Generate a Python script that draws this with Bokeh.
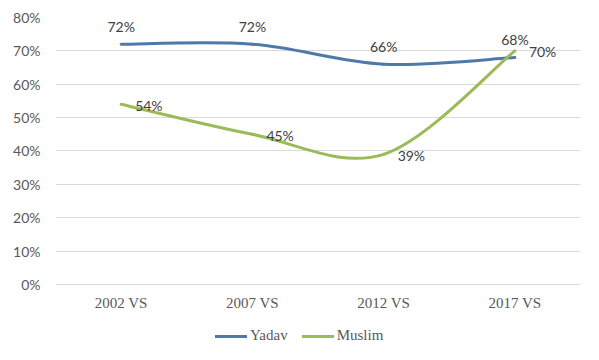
from bokeh.plotting import figure
from bokeh.models import (ColumnDataSource, Range1d, FixedTicker, PrintfTickFormatter,
                          Legend, LegendItem)
from bokeh.embed import file_html
from bokeh.resources import INLINE
from bokeh.core.properties import value

# ---- data ----
categories = ["2002 VS", "2007 VS", "2012 VS", "2017 VS"]
yadav = [72, 72, 66, 68]
muslim = [54, 45, 39, 70]
y_ticks = [0, 10, 20, 30, 40, 50, 60, 70, 80]

YADAV_COLOR = "#4E79A8"
MUSLIM_COLOR = "#9BBB59"


def smooth_source(vals):
    """Excel-style smoothed line: cubic Bezier segments (Catmull-Rom, tension 1/6)."""
    pts = [(float(i), float(v)) for i, v in enumerate(vals)]
    n = len(pts)
    d = dict(x0=[], y0=[], x1=[], y1=[], cx0=[], cy0=[], cx1=[], cy1=[])
    for i in range(n - 1):
        p0 = pts[i - 1] if i > 0 else pts[i]
        p1 = pts[i]
        p2 = pts[i + 1]
        p3 = pts[i + 2] if i + 2 < n else pts[i + 1]
        d["x0"].append(p1[0]); d["y0"].append(p1[1])
        d["x1"].append(p2[0]); d["y1"].append(p2[1])
        d["cx0"].append(p1[0] + (p2[0] - p0[0]) / 6.0)
        d["cy0"].append(p1[1] + (p2[1] - p0[1]) / 6.0)
        d["cx1"].append(p2[0] - (p3[0] - p1[0]) / 6.0)
        d["cy1"].append(p2[1] - (p3[1] - p1[1]) / 6.0)
    return ColumnDataSource(d)


# frame runs from the top (80%) down to the canvas bottom; the category axis is pinned at 0
p = figure(width=583, height=344, output_backend="svg", toolbar_location=None,
           x_range=Range1d(-0.5, len(categories) - 0.5), y_range=Range1d(-17.98, 80),
           min_border_left=55, min_border_right=3, min_border_top=17, min_border_bottom=0)
p.outline_line_color = None
p.background_fill_color = "white"
p.border_fill_color = "white"

# axes
p.xaxis.fixed_location = 0
p.xaxis.ticker = FixedTicker(ticks=list(range(len(categories))))
p.xaxis.major_label_overrides = {i: c for i, c in enumerate(categories)}
p.xaxis.axis_line_color = "#D9D9D9"
p.xaxis.major_tick_line_color = None
p.xaxis.minor_tick_line_color = None
p.xaxis.major_tick_out = 0
p.xaxis.major_label_standoff = 11
p.xaxis.major_label_text_font = "Liberation Serif"
p.xaxis.major_label_text_font_size = "15px"
p.xaxis.major_label_text_color = "#595959"

p.yaxis.ticker = FixedTicker(ticks=y_ticks)
p.yaxis.formatter = PrintfTickFormatter(format="%d%%")
p.yaxis.axis_line_color = None
p.yaxis.major_tick_line_color = None
p.yaxis.minor_tick_line_color = None
p.yaxis.major_tick_out = 0
p.yaxis.major_label_standoff = 15
p.yaxis.major_label_text_font = "Lato"
p.yaxis.major_label_text_font_size = "14px"
p.yaxis.major_label_text_color = "#595959"

p.xgrid.visible = False
p.ygrid.ticker = FixedTicker(ticks=y_ticks)
p.ygrid.grid_line_color = "#D9D9D9"
p.ygrid.grid_line_width = 1

# smooth lines
r_y = p.bezier(x0="x0", y0="y0", x1="x1", y1="y1", cx0="cx0", cy0="cy0", cx1="cx1", cy1="cy1",
               source=smooth_source(yadav), line_color=YADAV_COLOR, line_width=3, line_cap="round")
r_m = p.bezier(x0="x0", y0="y0", x1="x1", y1="y1", cx0="cx0", cy0="cy0", cx1="cx1", cy1="cy1",
               source=smooth_source(muslim), line_color=MUSLIM_COLOR, line_width=3, line_cap="round")

# data labels
src_y = ColumnDataSource(dict(x=list(range(len(yadav))), y=yadav, t=[f"{v}%" for v in yadav]))
src_m = ColumnDataSource(dict(x=list(range(len(muslim))), y=muslim, t=[f"{v}%" for v in muslim]))
p.text(x="x", y="y", text="t", source=src_y, text_align="center", text_baseline="middle",
       x_offset=0, y_offset=-18, text_font=value("Lato"), text_font_size="14px", text_color="#404040")
p.text(x="x", y="y", text="t", source=src_m, text_align="left", text_baseline="middle",
       x_offset=14, y_offset=1, text_font=value("Lato"), text_font_size="14px", text_color="#404040")

legend = Legend(items=[LegendItem(label="Yadav", renderers=[r_y]),
                       LegendItem(label="Muslim", renderers=[r_m])],
                orientation="horizontal", location=(160, 0),
                label_text_font="Liberation Serif", label_text_font_size="15px",
                label_text_color="#595959", glyph_width=32, glyph_height=14,
                label_height=14, label_standoff=3, spacing=14, padding=0, margin=0,
                border_line_color=None, background_fill_alpha=0)
p.add_layout(legend, "center")

open("out.html", "w").write(file_html(p, INLINE))
